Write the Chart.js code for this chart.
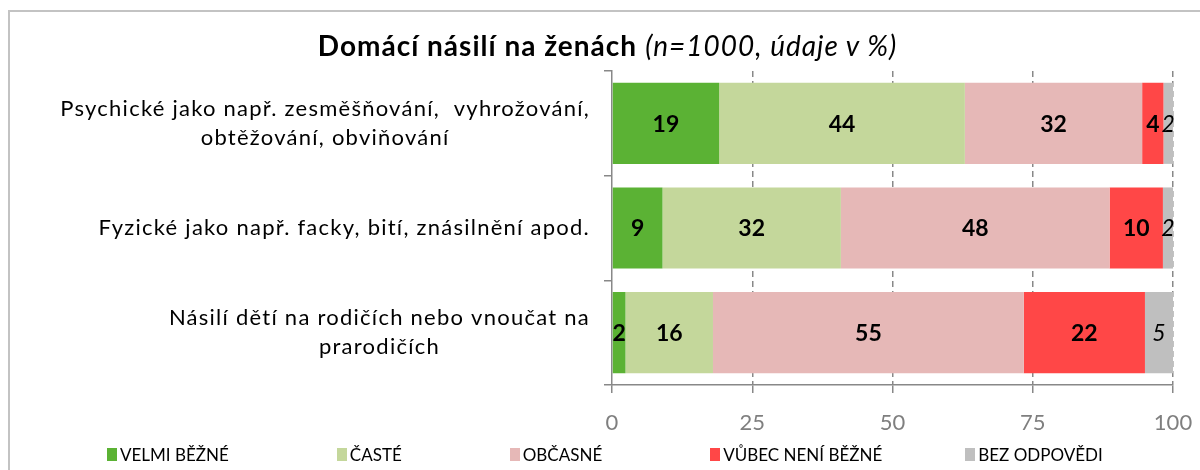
<!DOCTYPE html>
<html lang="cs">
<head>
<meta charset="utf-8">
<title>Domácí násilí na ženách</title>
<script src="https://cdn.jsdelivr.net/npm/chart.js@4.4.1/dist/chart.umd.min.js"></script>
<style>
  html, body { margin: 0; padding: 0; background: #fff; }
  #wrap { position: relative; width: 1200px; height: 470px; overflow: hidden; font-family: Lato, 'Noto Sans', sans-serif; }
  #frame { position: absolute; left: 8px; top: 10px; width: 1300px; height: 600px; border: 2px solid #c3c3c3; box-sizing: border-box; }
  #title { position: absolute; left: 0; top: 28px; width: 1215px; text-align: center; font-size: 28px; letter-spacing: 1px; color: #000; white-space: nowrap; }
  #title b { font-weight: 700; }
  #title i { font-weight: 400; }
  #chart { position: absolute; left: 0; top: 0; }
  #legend { position: absolute; left: 107px; top: 444px; display: flex; gap: 108px; font-family: Lato, sans-serif; font-size: 17px; color: #000; white-space: nowrap; }
  #legend .item { display: flex; align-items: center; }
  #legend .item:last-child { margin-left: -25px; }
  #legend .sw { width: 10px; height: 13px; margin-right: 3px; }
</style>
</head>
<body>
<div id="wrap">
  <div id="frame"></div>
  <canvas id="chart" width="1200" height="470"></canvas>
  <div id="title"><b>Domácí násilí na ženách</b> <i>(n=1000, údaje v %)</i></div>
  <div id="legend"></div>
</div>
<script>
// data (percent)
const categories = [
  ['Psychické jako např. zesměšňování,  vyhrožování,', 'obtěžování, obviňování'],
  ['Fyzické jako např. facky, bití, znásilnění apod.'],
  ['Násilí dětí na rodičích nebo vnoučat na', 'prarodičích']
];
const seriesNames = ['VELMI BĚŽNÉ', 'ČASTÉ', 'OBČASNÉ', 'VŮBEC NENÍ BĚŽNÉ', 'BEZ ODPOVĚDI'];
const velmiBezne = [19.1, 9.0, 2.4];
const caste = [43.8, 31.8, 15.6];
const obcasne = [31.6, 47.9, 55.4];
const vubecNeniBezne = [3.8, 9.5, 21.6];
const bezOdpovedi = [1.7, 1.8, 5.0];
const xTicks = [0, 25, 50, 75, 100];

const seriesColors = ['#5bb234', '#c4d79b', '#e6b8b7', '#ff4747', '#bfbfbf'];
const axisGrey = '#888888';

// legend (html)
const legendEl = document.getElementById('legend');
seriesNames.forEach((name, i) => {
  const item = document.createElement('div');
  item.className = 'item';
  item.innerHTML = `<span class="sw" style="background:${seriesColors[i]}"></span><span>${name}</span>`;
  legendEl.appendChild(item);
});

// category labels: block right-aligned to the axis, lines centered in block
const yLabelsPlugin = {
  id: 'yLabels',
  afterDraw(chart) {
    const { ctx } = chart;
    const yScale = chart.scales.y;
    const right = yScale.right - 22;
    const lineH = 29;
    ctx.save();
    ctx.font = '400 22px Lato';
    ctx.letterSpacing = '1.25px';
    ctx.fillStyle = '#000';
    ctx.textAlign = 'center';
    ctx.textBaseline = 'middle';
    categories.forEach((lines, i) => {
      const y = yScale.getPixelForTick(i);
      const w = Math.max(...lines.map(l => ctx.measureText(l).width));
      const cx = right - w / 2;
      const top = y - (lines.length - 1) * lineH / 2;
      lines.forEach((l, k) => ctx.fillText(l, cx, top + k * lineH));
    });
    ctx.restore();
  }
};

// values in the middle of each segment
const valueLabelsPlugin = {
  id: 'valueLabels',
  afterDatasetsDraw(chart) {
    const { ctx } = chart;
    ctx.save();
    ctx.fillStyle = '#000';
    ctx.textAlign = 'center';
    ctx.textBaseline = 'middle';
    chart.data.datasets.forEach((ds, i) => {
      const meta = chart.getDatasetMeta(i);
      ctx.font = i === 4 ? 'italic 400 23px Lato' : '700 23px Lato';
      meta.data.forEach((bar, j) => {
        const x = (bar.x + bar.base) / 2;
        ctx.fillText(String(Math.round(ds.data[j])), x, bar.y + 1);
      });
    });
    ctx.restore();
  }
};

const seriesData = [velmiBezne, caste, obcasne, vubecNeniBezne, bezOdpovedi];

new Chart(document.getElementById('chart'), {
  type: 'bar',
  data: {
    labels: categories.map(c => c.join(' ')),
    datasets: seriesNames.map((name, i) => ({
      label: name,
      data: seriesData[i],
      backgroundColor: seriesColors[i],
      borderWidth: 0,
      barPercentage: 0.775,
      categoryPercentage: 1
    }))
  },
  options: {
    indexAxis: 'y',
    responsive: false,
    animation: false,
    layout: { padding: { top: 71, right: 27, bottom: 36, left: 0 } },
    scales: {
      x: {
        stacked: true,
        min: 0,
        max: 100,
        afterBuildTicks: s => { s.ticks = xTicks.map(v => ({ value: v })); },
        afterFit: s => { s.height = 49; s.paddingLeft = 0; s.paddingRight = 0; },
        ticks: { color: '#7f7f7f', padding: 17, font: { family: 'Lato', size: 22 } },
        grid: {
          color: c => (c.index === 0 ? 'rgba(0,0,0,0)' : axisGrey),
          tickColor: axisGrey,
          tickLength: 8,
          lineWidth: 1.5
        },
        border: { color: axisGrey, width: 1.5, dash: [6, 4] }
      },
      y: {
        stacked: true,
        afterFit: s => { s.width = 612; },
        ticks: { display: false },
        grid: { drawOnChartArea: false, tickLength: 8, color: axisGrey, lineWidth: 1.5, offset: true },
        border: { color: axisGrey, width: 1.5 }
      }
    },
    plugins: {
      legend: { display: false },
      title: { display: false },
      tooltip: { enabled: false }
    }
  },
  plugins: [yLabelsPlugin, valueLabelsPlugin]
});
</script>
</body>
</html>
